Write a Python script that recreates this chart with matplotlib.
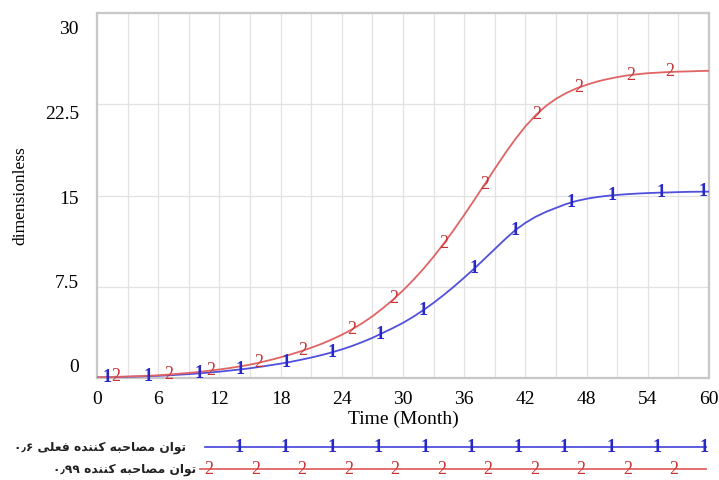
import numpy as np
import matplotlib
matplotlib.use("Agg")
import matplotlib.pyplot as plt
import matplotlib.transforms as mtransforms

# ---------------- data ----------------
months = list(range(0, 61))
power_current = [0.05, 0.06, 0.08, 0.10, 0.12, 0.15, 0.18, 0.22, 0.27, 0.32,
                 0.38, 0.45, 0.52, 0.61, 0.70, 0.80, 0.92, 1.05, 1.18, 1.33,
                 1.50, 1.68, 1.88, 2.10, 2.35, 2.63, 2.95, 3.30, 3.70, 4.10,
                 4.53, 5.03, 5.58, 6.18, 6.83, 7.52, 8.25, 9.00, 9.80, 10.60,
                 11.40, 12.15, 12.75, 13.25, 13.65, 13.98, 14.30, 14.55, 14.73, 14.87,
                 14.97, 15.05, 15.11, 15.16, 15.20, 15.23, 15.25, 15.28, 15.30, 15.31,
                 15.32]
power_099 = [0.05, 0.07, 0.10, 0.12, 0.15, 0.18, 0.22, 0.28, 0.35, 0.42,
             0.50, 0.60, 0.70, 0.82, 0.95, 1.10, 1.28, 1.48, 1.70, 1.94,
             2.20, 2.49, 2.80, 3.16, 3.55, 4.00, 4.50, 5.07, 5.72, 6.42,
             7.20, 8.05, 8.97, 9.97, 11.05, 12.20, 13.40, 14.65, 15.92, 17.20,
             18.45, 19.62, 20.68, 21.60, 22.35, 22.95, 23.42, 23.80, 24.10, 24.36,
             24.56, 24.73, 24.87, 24.97, 25.05, 25.10, 25.15, 25.18, 25.20, 25.23,
             25.25]
marker_times_1 = [1, 5, 10, 14, 18.5, 23, 27.7, 32, 37, 41, 46.5, 50.5, 55.3, 59.4]
marker_times_2 = [1.8, 7, 11.2, 15.9, 20.2, 25, 29.1, 34, 38, 43.1, 47.2, 52.3, 56.2]
x_ticks = [0, 6, 12, 18, 24, 30, 36, 42, 48, 54, 60]
y_ticks = [0, 7.5, 15, 22.5, 30]
y_tick_labels = ["0", "7.5", "15", "22.5", "30"]
legend_label_1 = ("توان مصاحبه کننده فعلی", "۰٫۶")
legend_label_2 = ("توان مصاحبه کننده", "۰٫۹۹")
x_label = "Time (Month)"
y_label = "dimensionless"

# ---------------- simple Persian shaping ----------------
FORMS = {
    'ا': ('\uFE8D', '\uFE8E', None, None),
    'د': ('\uFEA9', '\uFEAA', None, None),
    'و': ('\uFEED', '\uFEEE', None, None),
    'ب': ('\uFE8F', '\uFE90', '\uFE91', '\uFE92'),
    'ت': ('\uFE95', '\uFE96', '\uFE97', '\uFE98'),
    'ح': ('\uFEA1', '\uFEA2', '\uFEA3', '\uFEA4'),
    'ص': ('\uFEB9', '\uFEBA', '\uFEBB', '\uFEBC'),
    'ع': ('\uFEC9', '\uFECA', '\uFECB', '\uFECC'),
    'ف': ('\uFED1', '\uFED2', '\uFED3', '\uFED4'),
    'ل': ('\uFEDD', '\uFEDE', '\uFEDF', '\uFEE0'),
    'م': ('\uFEE1', '\uFEE2', '\uFEE3', '\uFEE4'),
    'ن': ('\uFEE5', '\uFEE6', '\uFEE7', '\uFEE8'),
    'ه': ('\uFEE9', '\uFEEA', '\uFEEB', '\uFEEC'),
    'ک': ('\uFB8E', '\uFB8F', '\uFB90', '\uFB91'),
    'ی': ('\uFBFC', '\uFBFD', '\uFBFE', '\uFBFF'),
}


def shape(text):
    out = []
    n = len(text)
    for i, ch in enumerate(text):
        if ch not in FORMS:
            out.append(ch)
            continue
        iso, fin, ini, med = FORMS[ch]
        prev = text[i - 1] if i > 0 else None
        nxt = text[i + 1] if i < n - 1 else None
        join_prev = prev in FORMS and FORMS[prev][2] is not None
        join_next = nxt in FORMS and ini is not None
        if join_prev and join_next:
            out.append(med)
        elif join_prev:
            out.append(fin)
        elif join_next:
            out.append(ini)
        else:
            out.append(iso)
    return ''.join(out)


def visual(label):
    words, number = label
    return number + " " + shape(words)[::-1]


# ---------------- figure ----------------
W, H = 719, 480
fig = plt.figure(figsize=(W / 100, H / 100), dpi=100)
ax = fig.add_axes([97 / W, 1 - 378 / H, (709 - 97) / W, (378 - 13) / H])

blue_line = "#5050dc"
blue_mark = "#2828c8"
red_line = "#e06464"
red_mark = "#c83232"
serif = "Liberation Serif"

ax.plot(months, power_current, color=blue_line, lw=1.3, zorder=3)
ax.plot(months, power_099, color=red_line, lw=1.3, zorder=3)

for t in marker_times_1:
    ax.text(t, np.interp(t, months, power_current), "1", color=blue_mark,
            ha="center", va="center", fontsize=13, family=serif,
            fontweight="bold", zorder=4)
for t in marker_times_2:
    ax.text(t, np.interp(t, months, power_099), "2", color=red_mark,
            ha="center", va="center", fontsize=13, family=serif, zorder=4)

ax.set_xlim(0, 60)
ax.set_ylim(0, 30)
ax.set_xticks(x_ticks)
ax.set_xticks(np.arange(0, 61, 3), minor=True)
ax.set_yticks(y_ticks)
ax.set_yticklabels(y_tick_labels)
ax.grid(True, which="both", color="#e2e2e2", lw=0.9, zorder=0)
ax.tick_params(which="both", length=0)
ax.tick_params(axis="x", pad=9, labelsize=14)
ax.tick_params(axis="y", pad=13, labelsize=14)
for lab in ax.get_xticklabels() + ax.get_yticklabels():
    lab.set_fontfamily(serif)
# Vensim-style spread of y labels
offsets_px = [13, 5, -2, -8, -14]
for lab, off in zip(ax.get_yticklabels(), offsets_px):
    lab.set_transform(lab.get_transform() +
                      mtransforms.ScaledTranslation(0, off / 100, fig.dpi_scale_trans))

for s in ax.spines.values():
    s.set_color("#c8c8c8")
    s.set_linewidth(1.6)

ax.set_xlabel(x_label, fontsize=14, family=serif, labelpad=2)
ax.set_ylabel(y_label, fontsize=12.5, family=serif, labelpad=12)

# ---------------- legend rows ----------------
lg = fig.add_axes([0, 0, 1, 1])
lg.set_xlim(0, W)
lg.set_ylim(H, 0)
lg.axis("off")

rows = [
    (visual(legend_label_1), 447, 186, blue_line, blue_mark, "1", 205, 239),
    (visual(legend_label_2), 469, 196, red_line, red_mark, "2", 200, 209),
]
for text, yy, txt_right, lc, mc, sym, x0, m0 in rows:
    lg.text(txt_right, yy, text, ha="right", va="center", fontsize=8.8,
            family=["DejaVu Sans", "Noto Sans"], fontweight="bold", color="#222222")
    lg.plot([x0, 706], [yy, yy], color=lc, lw=1.3)
    xs = np.arange(m0, 707, 46.5)
    for xm in xs:
        lg.text(xm, yy, sym, color=mc, ha="center", va="center",
                fontsize=13, family=serif,
                fontweight="bold" if sym == "1" else "normal")

fig.savefig("out.png", dpi=100)
